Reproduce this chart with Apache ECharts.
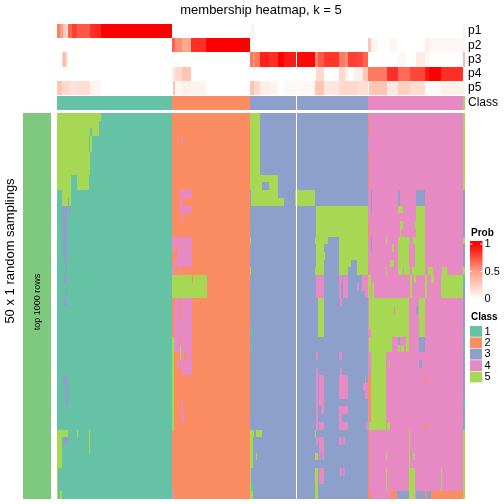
<!DOCTYPE html>
<html><head><meta charset="utf-8">
<style>html,body{margin:0;padding:0;background:#fff}#c{width:504px;height:504px}</style>
<script src="https://cdn.jsdelivr.net/npm/echarts@6/dist/echarts.min.js"></script>
</head><body><div id="c"></div>
<script>
var NCOL = 408, NROW = 50, GAP_COL = 239;
var classNames = ['1','2','3','4','5'];
var classColors = ['#66C2A5','#FC8D62','#8DA0CB','#E78AC3','#A6D854'];
var probRows = ['p1','p2','p3','p4','p5'];
var probTicks = ['1','0.5','0'];
var baseGroups = [[1,0,115],[2,115,193],[3,193,311],[4,311,406],[5,406,408]];
var p1 = [[0,.6],[3,.5],[6,.3],[9,.15],[11,.7],[15,.8],[20,.72],[33,.85],[38,.88],[44,1],[115,0],[194,.06],[197,0],[406,.06]];
var p2 = [[115,.7],[118,.55],[125,.45],[134,.85],[149,1],[193,0],[311,.3],[314,.06],[320,0],[333,.05],[340,0],[368,.08],[373,.04]];
var p3 = [[5,.2],[6,.35],[9,.12],[11,0],[193,.62],[196,.55],[198,.62],[203,.9],[212,.85],[221,1],[227,.92],[240,.97],[258,.55],[261,.72],[267,.83],[282,.62],[288,.55],[291,.8],[300,.78],[306,.68],[311,0],[341,.04],[350,0],[359,.1],[368,.05],[373,0],[406,.35]];
var p4 = [[115,.1],[118,.2],[125,.3],[134,0],[259,.2],[267,0],[282,.2],[288,.08],[291,0],[297,.08],[306,.3],[311,.62],[330,.85],[341,.66],[353,.78],[368,.93],[372,1],[384,.85],[406,0]];
var p5 = [[0,.3],[5,.2],[13,.15],[20,.17],[33,.06],[44,0],[116,.3],[118,.05],[125,.08],[134,.06],[149,0],[193,.3],[197,.2],[203,.08],[212,.06],[221,0],[227,.04],[258,.3],[267,.13],[282,.2],[300,.17],[311,0],[312,.3],[330,.12],[341,.25],[353,.18],[368,.02],[384,.07]];
var patchesClass1 = [
[0,0,5,0,44],[1,2,5,0,42],[2,2,1,33,35],[3,4,5,0,32],[3,4,5,33,35],[5,7,5,0,33],[8,9,5,0,14],[8,9,5,20,32],
[10,10,5,5,14],[11,11,5,5,11],[11,11,3,11,12],[11,11,5,12,14],[12,12,3,5,11],[12,12,3,12,14],[13,15,3,5,10],
[16,18,3,6,10],[19,20,3,8,10],[21,21,3,6,10],[22,23,3,9,10],[24,24,3,6,10],[34,34,3,6,11],[35,37,3,8,11],
[41,41,5,0,11],[41,41,5,20,21],[41,43,5,32,33],[42,42,5,0,5],[42,42,3,6,11],[43,45,5,0,5],[46,49,5,0,1],[49,49,5,3,5]];
var patchesClass2 = [
[3,3,4,124,126],[10,10,4,123,135],[11,11,4,123,126],[12,12,4,123,135],[13,13,4,124,126],[16,16,4,115,135],
[17,17,4,115,118],[17,17,4,120,135],[18,18,4,120,135],[19,19,4,117,135],[20,20,4,115,117],[20,20,4,123,124],
[21,21,5,115,135],[21,21,5,136,150],[22,23,5,115,150],[24,24,4,118,123],[24,24,4,124,135],[25,26,4,117,123],[25,26,4,124,135],
[27,28,4,117,135],[29,30,4,117,123],[29,30,4,124,135],[30,31,5,123,124],[31,31,4,124,127],[31,31,4,130,135],
[32,32,4,120,123],[32,33,4,124,135],[29,40,5,115,117],[37,38,4,124,126],[39,39,4,124,127],[49,49,4,115,117]];
var patchesClass3 = [
[0,7,5,193,203],[8,9,5,193,221],[9,9,3,205,212],[10,10,5,194,221],[10,11,5,238,258],[11,11,5,194,227],[12,15,5,259,311],
[16,16,5,193,194],[16,16,5,258,271],[16,18,5,282,311],[17,17,5,259,267],[18,18,5,259,268],[19,19,5,259,267],[19,19,5,282,294],
[19,20,5,300,311],[20,20,5,193,194],[20,20,5,258,267],[20,20,5,282,291],[21,23,4,259,267],[21,21,4,282,285],[21,23,4,286,291],
[21,22,4,305,311],[22,23,4,282,284],[22,22,4,300,302],[23,23,4,308,311],[24,28,5,261,267],[24,24,4,283,285],
[28,28,1,194,196],[30,30,1,194,196],[31,31,4,259,261],[31,31,4,282,285],[33,33,4,259,261],[33,33,4,283,285],
[34,40,4,259,261],[34,37,4,262,267],[34,36,4,282,291],[34,34,4,308,309],[35,35,4,306,311],[36,36,4,308,311],[37,37,3,285,286],
[38,38,4,264,267],[38,38,4,282,291],[39,39,4,282,285],[40,40,4,262,267],[40,40,4,282,291],[40,40,4,309,311],
[41,41,5,193,197],[41,41,5,199,205],[41,41,5,258,259],[42,42,4,259,261],[42,43,4,262,267],[42,42,4,282,285],[42,42,4,286,288],
[42,45,5,193,196],[44,44,5,199,200],[44,44,5,258,261],[44,44,4,262,264],[44,44,4,265,267],[46,47,5,193,194],[46,49,5,258,261],
[46,47,4,262,267],[46,46,4,283,285],[46,46,4,286,288],[48,48,5,193,194],[48,48,1,194,197],[49,49,5,193,196]];
var patchesClass4 = [
[0,2,2,311,312],[5,9,2,311,312],[14,15,2,311,312],[10,12,3,314,315],[10,11,3,341,343],[10,11,3,359,368],[12,12,5,341,346],[12,15,5,359,368],
[14,14,5,343,346],[14,14,5,358,359],[15,15,5,343,344],[16,16,3,314,315],[16,16,5,329,330],[16,16,5,341,353],[16,16,5,356,368],
[17,17,3,314,315],[17,17,5,335,337],[17,19,5,341,352],[17,19,5,358,368],[19,19,5,333,337],[20,20,2,311,312],[20,20,5,329,330],
[20,20,5,341,346],[20,20,5,347,353],[20,20,5,355,368],[20,20,5,371,376],[20,20,5,385,390],[21,23,5,311,314],[21,23,5,353,355],
[21,21,5,357,359],[21,23,5,368,370],[21,21,5,374,377],[21,23,5,384,406],[22,23,5,315,317],[24,27,5,312,352],[24,28,5,362,368],
[25,25,4,337,338],[25,25,3,359,361],[28,28,5,314,352],[29,30,5,312,335],[29,29,3,341,343],[29,30,5,349,352],[29,30,3,362,368],
[30,30,5,341,343],[30,30,5,344,347],[31,39,5,314,329],[32,32,5,332,333],[32,32,3,362,365],[34,39,2,312,314],[35,36,2,311,312],
[34,34,2,368,370],[40,40,2,368,370],[40,40,5,312,329],[40,40,5,330,333],[41,48,2,311,312],[41,45,5,352,353],[44,44,5,329,330],
[44,44,5,356,358],[46,48,5,329,330],[46,49,5,352,358],[46,48,5,384,385],[49,49,2,311,314],[49,49,2,333,340],[49,49,3,340,352],
[49,49,3,359,368],[49,49,2,368,370],[49,49,3,370,374],[49,49,2,374,406]];
var patchesClass5 = [
[10,15,3,406,408],[17,19,3,406,408],[21,21,1,406,408],[22,40,3,406,408],[28,28,1,406,408],[30,30,1,406,408],[37,37,1,406,408],[40,40,1,406,408]];

var j, r;
var matrix = [];
var classByCol = [];
baseGroups.forEach(function(g){ for (var c=g[1]; c<g[2]; c++) classByCol[c]=g[0]; });
for (r=0; r<NROW; r++) matrix.push(classByCol.slice());
[patchesClass1,patchesClass2,patchesClass3,patchesClass4,patchesClass5].forEach(function(list){
  list.forEach(function(p){
    for (var a=p[0]; a<=p[1]; a++) for (var c=p[3]; c<p[4]; c++) matrix[a][c]=p[2];
  });
});
function runsOf(values, row){
  var out=[], start=0;
  for (var c=1; c<=NCOL; c++){
    var brk = c===NCOL || c===GAP_COL || c===GAP_COL+1 || values[c]!==values[start];
    if (brk){
      if (start!==GAP_COL) out.push([start,c,row,values[start]]);
      start=c;
    }
  }
  return out;
}
var mainData = [];
for (r=0; r<NROW; r++) mainData = mainData.concat(runsOf(matrix[r],r));
var classData = runsOf(classByCol,0);
var probData = [];
[p1,p2,p3,p4,p5].forEach(function(runs,row){
  var k=0, v=0, vals=[];
  for (var c=0; c<NCOL; c++){
    while (k<runs.length && runs[k][0]<=c){ v=runs[k][1]; k++; }
    vals.push(v);
  }
  probData = probData.concat(runsOf(vals,row));
});
var rows = []; for (r=0;r<NROW;r++) rows.push(r);

function renderCell(params, api){
  var a = api.coord([api.value(0), api.value(2)]);
  var b = api.coord([api.value(1), api.value(2)]);
  var h = api.size([0,1])[1];
  var y0 = Math.round(a[1]-h/2), y1 = Math.round(a[1]+h/2);
  return {type:'rect',shape:{x:Math.round(a[0]),y:y0,width:Math.round(b[0])-Math.round(a[0]),height:y1-y0},style:{fill:api.visual('color')}};
}
function colAxis(g){ return {type:'value',gridIndex:g,min:0,max:NCOL,show:false}; }
function cellSeries(i,data){ return {type:'custom',xAxisIndex:i,yAxisIndex:i,renderItem:renderCell,data:data,progressive:0,silent:true,clip:false,encode:{x:[0,1],y:2}}; }

var font = '"Liberation Sans",Arial,sans-serif';
var legendEls = [
 {type:'text',x:471,y:233,z:100,style:{text:'Prob',font:'bold 10px '+font,fill:'#000',textVerticalAlign:'middle'}},
 {type:'rect',z:100,shape:{x:470,y:241,width:12.5,height:58},style:{fill:new echarts.graphic.LinearGradient(0,0,0,1,[{offset:0,color:'#ff0000'},{offset:.05,color:'#ff0000'},{offset:.52,color:'#FF9E81'},{offset:1,color:'#ffffff'}])}},
 {type:'text',x:471,y:317,z:100,style:{text:'Class',font:'bold 10px '+font,fill:'#000',textVerticalAlign:'middle'}}
];
[244,271.5].forEach(function(y){
  legendEls.push({type:'rect',z:101,shape:{x:470,y:y-.5,width:2.5,height:1},style:{fill:'#fff'}});
  legendEls.push({type:'rect',z:101,shape:{x:480,y:y-.5,width:2.5,height:1},style:{fill:'#fff'}});
});
probTicks.forEach(function(t,n){
  legendEls.push({type:'text',z:100,x:484.5,y:[244,271.5,299][n],style:{text:t,font:'11px '+font,fill:'#000',textVerticalAlign:'middle'}});
});
classNames.forEach(function(t,n){
  legendEls.push({type:'rect',z:100,shape:{x:470,y:326+n*11.4,width:12,height:10.8},style:{fill:classColors[n]}});
  legendEls.push({type:'text',z:100,x:484.5,y:331.5+n*11.4,style:{text:t,font:'11px '+font,fill:'#000',textVerticalAlign:'middle'}});
});
var textEls = [
 {type:'text',z:100,x:261,y:10,style:{text:'membership heatmap, k = 5',font:'13px '+font,fill:'#000',textAlign:'center',textVerticalAlign:'middle'}},
 {type:'text',z:100,x:10,y:251,rotation:Math.PI/2,style:{text:'50 x 1 random samplings',font:'13px '+font,fill:'#000',textAlign:'center',textVerticalAlign:'middle'}},
 {type:'text',z:100,x:38,y:302,rotation:Math.PI/2,style:{text:'top 1000 rows',font:'9px '+font,fill:'#000',textAlign:'center',textVerticalAlign:'middle'}}
];
var labelAxis = {axisLine:{show:false},axisTick:{show:false},splitLine:{show:false},axisLabel:{interval:0,fontFamily:font,fontSize:12,color:'#000',margin:3}};
var chart = echarts.init(document.getElementById('c'),null,{renderer:'canvas'});
chart.setOption({
  animation:false,
  backgroundColor:'#fff',
  grid:[
    {left:57,top:113,width:408,height:386},
    {left:57,top:24,width:408,height:71},
    {left:57,top:96,width:408,height:14},
    {left:23,top:113,width:28,height:386}
  ],
  xAxis:[colAxis(0),colAxis(1),colAxis(2),{type:'value',gridIndex:3,min:0,max:1,show:false}],
  yAxis:[
    {type:'category',gridIndex:0,data:rows,inverse:true,show:false},
    Object.assign({type:'category',gridIndex:1,data:probRows,inverse:true,position:'right'},labelAxis),
    Object.assign({type:'category',gridIndex:2,data:['Class'],position:'right'},labelAxis),
    {type:'category',gridIndex:3,data:[0],show:false}
  ],
  visualMap:[
    {type:'piecewise',show:false,seriesIndex:[0,2,3],dimension:3,pieces:[
      {value:0,color:'#7FC97F'},{value:1,color:classColors[0]},{value:2,color:classColors[1]},{value:3,color:classColors[2]},{value:4,color:classColors[3]},{value:5,color:classColors[4]}]},
    {type:'continuous',show:false,seriesIndex:1,dimension:3,min:0,max:1,inRange:{color:['#ffffff','#FF9E81','#FF0000']}}
  ],
  series:[
    cellSeries(0,mainData),
    cellSeries(1,probData),
    cellSeries(2,classData),
    cellSeries(3,[[0,1,0,0]])
  ],
  graphic:{elements:textEls.concat(legendEls)}
});
</script></body></html>
